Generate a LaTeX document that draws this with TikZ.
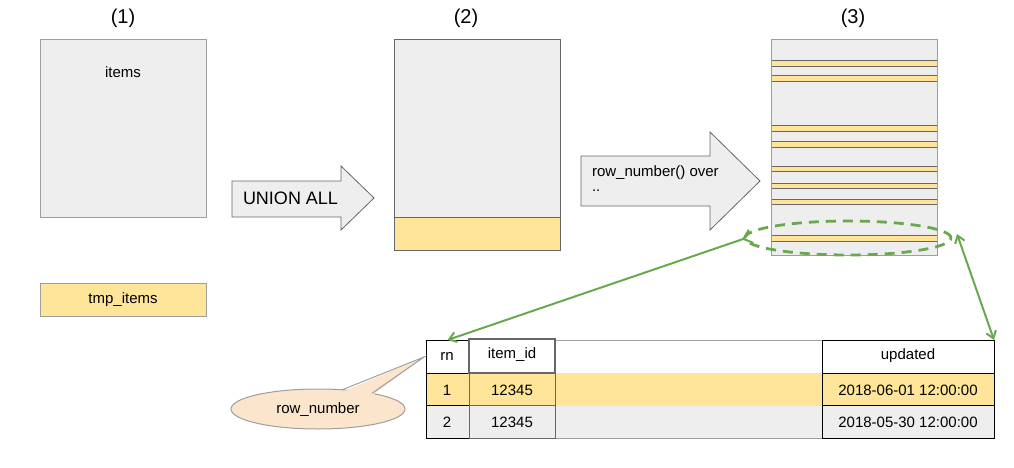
\documentclass[tikz,border=0pt]{standalone}
\usepackage{fontspec}
\setmainfont{Liberation Sans}
\usetikzlibrary{shapes.geometric,arrows.meta}
\definecolor{boxgray}{HTML}{EEEEEE}
\definecolor{edgegray}{HTML}{9E9E9E}
\definecolor{darkedge}{HTML}{666666}
\definecolor{rowyellow}{HTML}{FFE599}
\definecolor{ggreen}{HTML}{6AA84F}
\definecolor{peach}{HTML}{FCE5CD}
\begin{document}
\begin{tikzpicture}[x=1pt,y=-1pt,
  every node/.style={font=\fontsize{15}{18}\selectfont, inner sep=0pt, outer sep=0pt},
  tbox/.style={draw=edgegray, fill=boxgray, line width=1pt, anchor=north west},
  ybox/.style={draw=edgegray, fill=rowyellow, line width=1pt, anchor=north west},
  stripe/.style={draw=darkedge, fill=rowyellow, line width=0.8pt},
  bigarrow/.style={draw=darkedge, fill=boxgray, line width=0.8pt},
  title/.style={font=\fontsize{20}{24}\selectfont},
  cell/.style={anchor=north west, line width=1pt},
  gline/.style={draw=ggreen, line width=2pt}
]
\useasboundingbox (0,0) rectangle (1014,468);

% titles
\node[title] (t1) at (123,18) {(1)};
\node[title] (t2) at (466,18) {(2)};
\node[title] (t3) at (853,18) {(3)};

% (1)
\node[tbox, minimum width=166pt, minimum height=177pt] (items) at (40,40) {};
\node (itemslbl) at (123,72) {items};
\node[ybox, minimum width=166pt, minimum height=33pt] (tmp) at (40,283) {};
\node (tmplbl) at (123,300) {tmp\_items};

% UNION ALL arrow
\draw[bigarrow] (232,181) -- (341,181) -- (341,166) -- (374,198) -- (341,230) -- (341,217) -- (232,217) -- cycle;
\node[anchor=west, font=\fontsize{18}{22}\selectfont] (union) at (243,198) {UNION ALL};

% (2)
\node[tbox, draw=darkedge, minimum width=166pt, minimum height=177pt] (b2) at (394,40) {};
\node[ybox, draw=darkedge, minimum width=166pt, minimum height=33pt] (b2y) at (394,217) {};

% row_number arrow
\draw[bigarrow] (581,156) -- (710,156) -- (710,132) -- (760,181) -- (710,230) -- (710,206) -- (581,206) -- cycle;
\node[anchor=west] (rnl1) at (592,173) {row\_number() over};
\node[anchor=west] (rnl2) at (592,191) {..};

% (3)
\node[tbox, minimum width=166pt, minimum height=215pt] (b3) at (771,40) {};
\foreach \ya/\yb in {60.7/66, 75.3/81, 125.7/131, 141.3/147, 166/171.7, 183/188.7, 199/204.7, 235.7/241.3}{
  \draw[stripe] (771,\ya) rectangle (937,\yb);
}
\draw[edgegray, line width=1pt] (771,40) rectangle (937,255);

% dashed ellipse
\node[ellipse, draw=ggreen, line width=2.8pt, dash pattern=on 10pt off 7pt,
      minimum width=206pt, minimum height=34pt] (ell) at (848,238) {};
\coordinate (eL) at (752,236);
\coordinate (eR) at (957,234);

% table
\node[cell, fill=white, minimum width=86pt, minimum height=33pt] (b0) at (469,340) {};
\node[cell, fill=rowyellow, minimum width=353pt, minimum height=32.7pt] (b1) at (469,373) {};
\node[cell, fill=boxgray, minimum width=353pt, minimum height=32.3pt] (b2r) at (469,405.7) {};
\draw[edgegray, line width=0.8pt] (555,340) -- (822,340);
\draw[edgegray, line width=0.8pt] (555,438) -- (822,438);

\node[cell, draw=black, fill=white, minimum width=43pt, minimum height=33pt] (rn0) at (426,340) {};
\node[cell, draw=black, fill=rowyellow, minimum width=43pt, minimum height=32.7pt] (rn1) at (426,373) {};
\node[cell, draw=black, fill=boxgray, minimum width=43pt, minimum height=32.3pt] (rn2) at (426,405.7) {};

\node[cell, draw=darkedge, fill=rowyellow, minimum width=86pt, minimum height=32.7pt] (id1) at (469,373) {};
\node[cell, draw=darkedge, fill=boxgray, minimum width=86pt, minimum height=32.3pt] (id2) at (469,405.7) {};
\node[cell, draw=darkedge, line width=1.6pt, fill=white, minimum width=86pt, minimum height=34pt] (id0) at (469,339) {};

\node[cell, draw=black, fill=white, minimum width=172pt, minimum height=33pt] (u0) at (822,340) {};
\node[cell, draw=black, fill=rowyellow, minimum width=172pt, minimum height=32.7pt] (u1) at (822,373) {};
\node[cell, draw=black, fill=boxgray, minimum width=172pt, minimum height=32.3pt] (u2) at (822,405.7) {};

\node (rnt) at (447,356) {rn};
\node (idt) at (512,355) {item\_id};
\node (updt) at (908,356) {updated};
\node (r1a) at (447,390) {1};
\node (r1b) at (512,390) {12345};
\node (r1c) at (908,390) {2018-06-01 12:00:00};
\node (r2a) at (447,422) {2};
\node (r2b) at (512,422) {12345};
\node (r2c) at (908,422) {2018-05-30 12:00:00};

% green connectors
\draw[gline, {Straight Barb[reversed,length=8pt,width=14pt]}-{Straight Barb[length=7pt,width=10pt]}] (eL) -- (rn0.north);
\draw[gline, {Straight Barb[length=7pt,width=10pt]}-{Straight Barb[length=7pt,width=10pt]}] (eR) -- (u0.north east);

% callout
\node[ellipse, draw=edgegray, fill=peach, line width=1pt, minimum width=174pt, minimum height=40pt] (callout) at (318,409) {};
\coordinate (ctip) at (424,357);
\fill[peach] (342,392) -- (ctip) -- (372,395.5) -- cycle;
\draw[edgegray, line width=1pt] (342,389.8) -- (ctip) -- (372,393.3);
\node (callt) at (318,410) {row\_number};
\end{tikzpicture}
\end{document}
